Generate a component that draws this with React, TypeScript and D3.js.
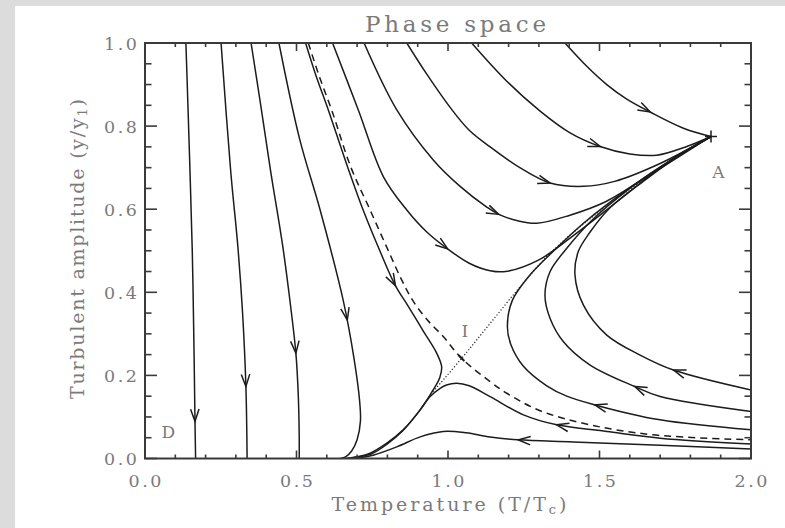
import React, { useEffect, useRef } from 'react';
import * as d3 from 'd3';

const W = 785;
const H = 528;

// axis ticks
const xMajor = [0, 0.5, 1.0, 1.5, 2.0];
const xLabels = ['0.0', '0.5', '1.0', '1.5', '2.0'];
const yMajor = [0, 0.2, 0.4, 0.6, 0.8, 1.0];
const yLabels = ['0.0', '0.2', '0.4', '0.6', '0.8', '1.0'];

// trajectories, points listed in the direction of the flow
const left1 = [[0.135, 1.0], [0.146, 0.75], [0.156, 0.5], [0.162, 0.25], [0.165, 0.089], [0.167, 0]];
const left2 = [[0.251, 1.0], [0.283, 0.69], [0.306, 0.514], [0.322, 0.35], [0.333, 0.173], [0.337, 0]];
const left3 = [[0.35, 1.0], [0.382, 0.85], [0.415, 0.69], [0.454, 0.514], [0.48, 0.37], [0.498, 0.253], [0.506, 0.15], [0.509, 0.05], [0.509, 0]];
const left4 = [[0.442, 1.0], [0.51, 0.77], [0.578, 0.598], [0.654, 0.381], [0.69, 0.24], [0.708, 0.141], [0.711, 0.09], [0.7, 0.045], [0.682, 0.018], [0.662, 0.004], [0.645, 0]];
const left5 = [[0.53, 1.0], [0.565, 0.92], [0.605, 0.839], [0.66, 0.72], [0.72, 0.598], [0.775, 0.5], [0.825, 0.418], [0.87, 0.365], [0.92, 0.305], [0.963, 0.253], [0.979, 0.221], [0.973, 0.195], [0.951, 0.165], [0.908, 0.117], [0.852, 0.069], [0.798, 0.037], [0.743, 0.013], [0.699, 0.004], [0.666, 0]];

const upper1 = [[0.619, 1.0], [0.704, 0.839], [0.787, 0.678], [0.864, 0.598], [0.93, 0.545], [0.996, 0.506], [1.07, 0.47], [1.139, 0.452], [1.19, 0.45], [1.3, 0.478], [1.42, 0.54], [1.568, 0.624], [1.72, 0.71], [1.868, 0.775]];
const upper2 = [[0.723, 1.0], [0.831, 0.839], [0.952, 0.718], [1.04, 0.655], [1.128, 0.605], [1.166, 0.588], [1.23, 0.572], [1.293, 0.566], [1.4, 0.585], [1.52, 0.618], [1.65, 0.675], [1.868, 0.775]];
const upper3 = [[0.864, 1.0], [0.93, 0.925], [1.007, 0.845], [1.07, 0.79], [1.139, 0.75], [1.237, 0.7], [1.337, 0.663], [1.447, 0.655], [1.55, 0.667], [1.7, 0.71], [1.868, 0.775]];
const upper4 = [[1.078, 1.0], [1.194, 0.908], [1.304, 0.836], [1.4, 0.785], [1.502, 0.751], [1.6, 0.733], [1.689, 0.73], [1.788, 0.751], [1.868, 0.775]];
const upper5 = [[1.386, 1.0], [1.458, 0.944], [1.524, 0.9], [1.59, 0.865], [1.667, 0.834], [1.777, 0.795], [1.868, 0.775]];

const right1 = [[2.0, 0.165], [1.744, 0.213], [1.634, 0.249], [1.524, 0.297], [1.447, 0.369], [1.419, 0.442], [1.43, 0.498], [1.469, 0.545], [1.53, 0.6], [1.65, 0.67], [1.76, 0.728], [1.868, 0.775]];
const right2 = [[2.0, 0.113], [1.7, 0.149], [1.617, 0.173], [1.469, 0.225], [1.381, 0.281], [1.337, 0.337], [1.32, 0.393], [1.337, 0.45], [1.392, 0.506], [1.47, 0.57], [1.6, 0.65], [1.75, 0.725], [1.868, 0.775]];
const right3 = [[2.0, 0.069], [1.7, 0.093], [1.485, 0.129], [1.392, 0.15], [1.326, 0.175], [1.249, 0.222], [1.207, 0.275], [1.196, 0.318], [1.212, 0.38], [1.265, 0.437], [1.345, 0.497], [1.45, 0.568], [1.6, 0.652], [1.75, 0.725], [1.868, 0.775]];
const right4 = [[2.0, 0.035], [1.7, 0.049], [1.524, 0.065], [1.359, 0.081], [1.249, 0.105], [1.139, 0.149], [1.07, 0.175], [1.029, 0.181], [0.995, 0.177], [0.974, 0.169], [0.941, 0.149], [0.905, 0.114], [0.85, 0.066], [0.8, 0.035], [0.75, 0.012], [0.7, 0.003], [0.66, 0]];
const right5 = [[2.0, 0.023], [1.7, 0.032], [1.413, 0.04], [1.232, 0.045], [1.139, 0.052], [1.06, 0.062], [0.984, 0.065], [0.908, 0.052], [0.831, 0.028], [0.753, 0.008], [0.71, 0.002], [0.68, 0]];

// separatrix (dashed) and unstable manifold of I (dotted)
const separatrix = [[0.539, 1.0], [0.575, 0.92], [0.616, 0.839], [0.68, 0.7], [0.743, 0.598], [0.8, 0.505], [0.847, 0.43], [0.883, 0.381], [0.93, 0.335], [0.985, 0.293], [1.045, 0.241], [1.139, 0.185], [1.194, 0.157], [1.304, 0.115], [1.469, 0.081], [1.677, 0.057], [2.0, 0.045]];
const manifold = [[0.951, 0.161], [1.045, 0.241], [1.139, 0.325], [1.24, 0.415], [1.337, 0.494], [1.45, 0.566], [1.6, 0.648], [1.75, 0.722], [1.868, 0.775]];

const flows = [left1, left2, left3, left4, left5, upper1, upper2, upper3, upper4, upper5, right1, right2, right3, right4, right5];
// arrow tips, one per flow line (same order)
const arrowTips = [[0.165, 0.089], [0.333, 0.173], [0.498, 0.253], [0.666, 0.333], [0.831, 0.418], [0.996, 0.502], [1.166, 0.586], [1.337, 0.663], [1.502, 0.751], [1.667, 0.834], [1.744, 0.213], [1.617, 0.173], [1.485, 0.129], [1.359, 0.081], [1.232, 0.045]];

const pointA = [1.868, 0.775];
const pointI = [1.045, 0.241];
const pointLabels = [
  { text: 'A', pos: [1.892, 0.691] },
  { text: 'I', pos: [1.056, 0.309] },
  { text: 'D', pos: [0.077, 0.066] },
];

const FONT = '"DejaVu Serif", serif';
const TEXT_COLOR = '#7a7a7a';

export default function App() {
  const ref = useRef<SVGSVGElement>(null);

  useEffect(() => {
    const svg = d3.select(ref.current);
    svg.selectAll('*').remove();

    const x = d3.scaleLinear().domain([0, 2]).range([145, 751]);
    const y = d3.scaleLinear().domain([0, 1]).range([458.5, 43]);

    svg.append('rect').attr('width', W).attr('height', H).attr('fill', '#dcdcdc');
    svg.append('rect').attr('x', 15).attr('y', 6).attr('width', W - 15).attr('height', H - 6).attr('fill', '#ffffff');

    svg.append('clipPath').attr('id', 'plotclip')
      .append('rect')
      .attr('x', x(0)).attr('y', y(1))
      .attr('width', x(2) - x(0)).attr('height', y(0) - y(1));

    const line = d3.line<number[]>()
      .x(d => x(d[0]))
      .y(d => y(d[1]))
      .curve(d3.curveCatmullRom.alpha(0.5));

    const g = svg.append('g').attr('clip-path', 'url(#plotclip)');

    const paths = g.selectAll('path.flow')
      .data(flows)
      .enter().append('path')
      .attr('class', 'flow')
      .attr('d', d => line(d))
      .attr('fill', 'none')
      .attr('stroke', '#1c1c1c')
      .attr('stroke-width', 1.5);

    const sepPath = g.append('path')
      .attr('d', line(separatrix))
      .attr('fill', 'none')
      .attr('stroke', '#1c1c1c')
      .attr('stroke-width', 1.5)
      .attr('stroke-dasharray', '7,5');

    g.append('path')
      .attr('d', line(manifold))
      .attr('fill', 'none')
      .attr('stroke', '#1c1c1c')
      .attr('stroke-width', 1.2)
      .attr('stroke-dasharray', '1.2,2');

    // arrows: chevrons along each flow line
    const nodes = paths.nodes() as SVGPathElement[];
    arrowTips.forEach((tip, i) => {
      const node = nodes[i];
      const total = node.getTotalLength();
      const tx = x(tip[0]), ty = y(tip[1]);
      let best = 0, bestD = Infinity;
      for (let l = 0; l <= total; l += 0.5) {
        const p = node.getPointAtLength(l);
        const dd = (p.x - tx) ** 2 + (p.y - ty) ** 2;
        if (dd < bestD) { bestD = dd; best = l; }
      }
      const p0 = node.getPointAtLength(Math.max(0, best - 3));
      const p1 = node.getPointAtLength(Math.min(total, best + 3));
      const pt = node.getPointAtLength(best);
      const ang = Math.atan2(p1.y - p0.y, p1.x - p0.x);
      const len = 13, half = 19 * Math.PI / 180;
      const a1 = [pt.x - len * Math.cos(ang - half), pt.y - len * Math.sin(ang - half)];
      const a2 = [pt.x - len * Math.cos(ang + half), pt.y - len * Math.sin(ang + half)];
      g.append('path')
        .attr('d', `M${a1[0]},${a1[1]}L${pt.x},${pt.y}L${a2[0]},${a2[1]}`)
        .attr('fill', 'none')
        .attr('stroke', '#1c1c1c')
        .attr('stroke-width', 1.5);
    });

    // marker at A
    svg.append('path')
      .attr('d', `M${x(pointA[0]) - 6},${y(pointA[1])}h12M${x(pointA[0])},${y(pointA[1]) - 6}v12`)
      .attr('stroke', '#1c1c1c').attr('stroke-width', 1.5);

    // marker at I, along the separatrix
    {
      const node = sepPath.node() as SVGPathElement;
      const total = node.getTotalLength();
      const tx = x(pointI[0]), ty = y(pointI[1]);
      let best = 0, bestD = Infinity;
      for (let l = 0; l <= total; l += 0.5) {
        const p = node.getPointAtLength(l);
        const dd = (p.x - tx) ** 2 + (p.y - ty) ** 2;
        if (dd < bestD) { bestD = dd; best = l; }
      }
      const p0 = node.getPointAtLength(best - 4);
      const p1 = node.getPointAtLength(best + 4);
      svg.append('line')
        .attr('x1', p0.x).attr('y1', p0.y).attr('x2', p1.x).attr('y2', p1.y)
        .attr('stroke', '#1c1c1c').attr('stroke-width', 2);
    }

    // frame
    svg.append('rect')
      .attr('x', x(0)).attr('y', y(1))
      .attr('width', x(2) - x(0)).attr('height', y(0) - y(1))
      .attr('fill', 'none').attr('stroke', '#3a3a3a').attr('stroke-width', 2);

    const isMajorX = (v: number) => xMajor.some(m => Math.abs(m - v) < 1e-6);
    const isMajorY = (v: number) => yMajor.some(m => Math.abs(m - v) < 1e-6);

    const ticks = svg.append('g').attr('stroke', '#3a3a3a').attr('stroke-width', 1.6);
    x.ticks(20).forEach(v => {
      const len = isMajorX(v) ? 8 : 4;
      ticks.append('line').attr('x1', x(v)).attr('x2', x(v)).attr('y1', y(0)).attr('y2', y(0) - len);
      ticks.append('line').attr('x1', x(v)).attr('x2', x(v)).attr('y1', y(1)).attr('y2', y(1) + len);
    });
    y.ticks(20).forEach(v => {
      const len = isMajorY(v) ? 12 : 6.5;
      ticks.append('line').attr('y1', y(v)).attr('y2', y(v)).attr('x1', x(0)).attr('x2', x(0) + len);
      ticks.append('line').attr('y1', y(v)).attr('y2', y(v)).attr('x1', x(2)).attr('x2', x(2) - len);
    });

    const text = svg.append('g').attr('font-family', FONT).attr('fill', TEXT_COLOR);

    xMajor.forEach((v, i) => {
      text.append('text')
        .attr('x', x(v)).attr('y', 487)
        .attr('text-anchor', 'middle')
        .attr('font-size', 17.5)
        .attr('textLength', 33).attr('lengthAdjust', 'spacing')
        .text(xLabels[i]);
    });
    yMajor.forEach((v, i) => {
      text.append('text')
        .attr('x', 137).attr('y', y(v) + 6.5)
        .attr('text-anchor', 'end')
        .attr('font-size', 17.5)
        .attr('textLength', 33).attr('lengthAdjust', 'spacing')
        .text(yLabels[i]);
    });

    text.append('text')
      .attr('x', 455.5).attr('y', 32)
      .attr('text-anchor', 'middle')
      .attr('font-size', 23)
      .attr('textLength', 181).attr('lengthAdjust', 'spacing')
      .text('Phase space');

    const xt = text.append('text')
      .attr('x', 449).attr('y', 510.5)
      .attr('text-anchor', 'middle')
      .attr('font-size', 19)
      .attr('textLength', 235).attr('lengthAdjust', 'spacing');
    xt.append('tspan').text('Temperature (T/T');
    xt.append('tspan').attr('font-size', 13).attr('dy', 3).text('c');
    xt.append('tspan').attr('dy', -3).text(')');

    const yt = text.append('text')
      .attr('transform', 'translate(83.5,249) rotate(-90)')
      .attr('text-anchor', 'middle')
      .attr('font-size', 19)
      .attr('textLength', 300).attr('lengthAdjust', 'spacing');
    yt.append('tspan').text('Turbulent amplitude (y/y');
    yt.append('tspan').attr('font-size', 13).attr('dy', 3).text('1');
    yt.append('tspan').attr('dy', -3).text(')');

    pointLabels.forEach(p => {
      text.append('text')
        .attr('x', x(p.pos[0])).attr('y', y(p.pos[1]) + 6.5)
        .attr('text-anchor', 'middle')
        .attr('font-size', 17)
        .text(p.text);
    });
  }, []);

  return (
    <svg ref={ref} width={W} height={H} style={{ position: 'absolute', left: 0, top: 0 }} />
  );
}
